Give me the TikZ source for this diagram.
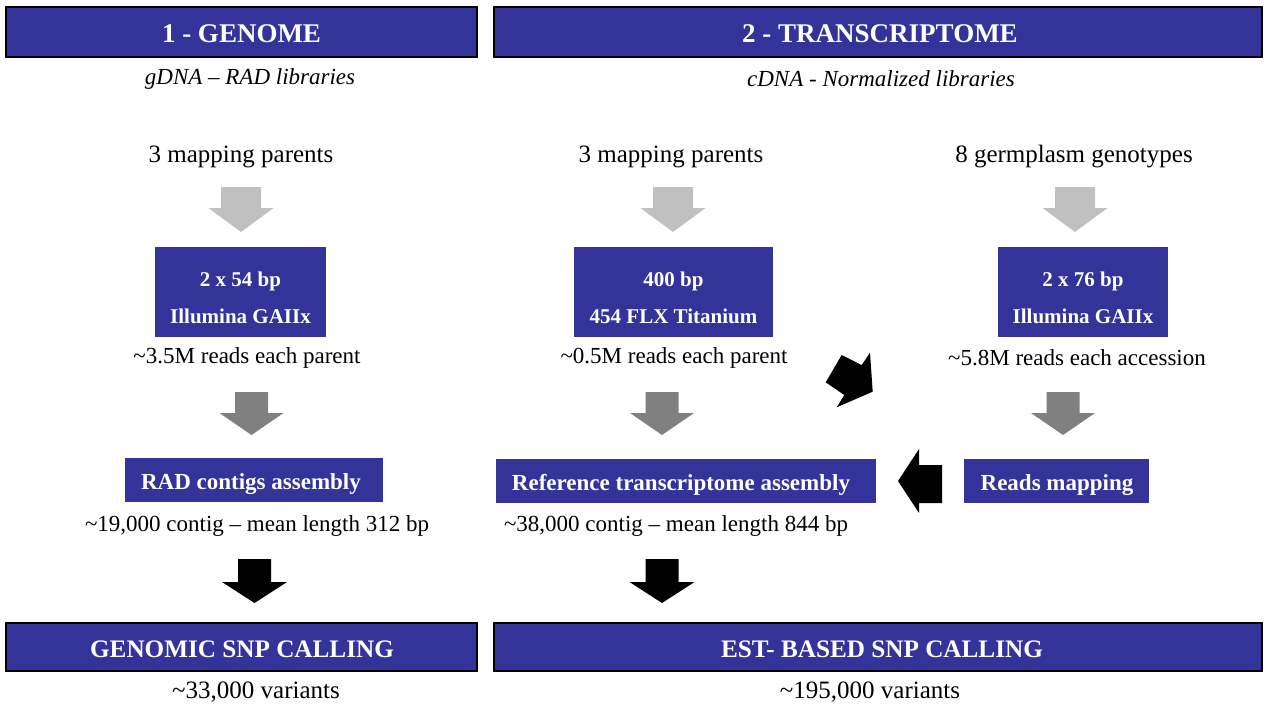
\documentclass[tikz,border=0pt]{standalone}
\usepackage{fontspec}
\setmainfont{Liberation Serif}
\definecolor{boxblue}{HTML}{333399}
\definecolor{lgray}{HTML}{C0C0C0}
\definecolor{dgray}{HTML}{808080}
\newcommand{\DownBlock}[7]{%
  \fill[#1] ({#2-#4/2},#3) -- ({#2+#4/2},#3) -- ({#2+#4/2},#6) -- ({#2+#5/2},#6) -- (#2,#7) -- ({#2-#5/2},#6) -- ({#2-#4/2},#6) -- cycle;}
\tikzset{
  hdr/.style={draw=black, line width=1.5pt, fill=boxblue, inner sep=0pt},
  hdrtxt/.style={text=white, inner sep=0pt, font=\fontsize{27}{30}\selectfont\bfseries},
  foottxt/.style={text=white, inner sep=0pt, font=\fontsize{25.2}{30}\selectfont\bfseries},
  bbox/.style={fill=boxblue, inner sep=0pt},
  btxt/.style={text=white, inner sep=0pt, align=center, font=\fontsize{21}{37}\selectfont\bfseries},
  btxtl/.style={text=white, inner sep=0pt, font=\fontsize{23}{27}\selectfont\bfseries},
  txt/.style={inner sep=0pt, font=\fontsize{23}{28}\selectfont},
  txtl/.style={inner sep=0pt, font=\fontsize{25}{28}\selectfont},
  sub/.style={inner sep=0pt, font=\fontsize{23}{25}\selectfont\itshape},
}
\begin{document}
\begin{tikzpicture}[x=1pt,y=-1pt]
\useasboundingbox (0,0) rectangle (1268,706);
% headers
\node[hdr, minimum width=471, minimum height=50] (h1) at (241.5,32) {};
\node[hdrtxt] (h1t) at (241.5,34) {1 - GENOME};
\node[hdr, minimum width=768, minimum height=50] (h2) at (878,32) {};
\node[hdrtxt] (h2t) at (880,34) {2 - TRANSCRIPTOME};
\node[sub] (s1) at (250,79) {gDNA – RAD libraries};
\node[sub] (s2) at (881,79) {cDNA - Normalized libraries};
% row 1
\node[txtl] (t1a) at (241,157) {3 mapping parents};
\node[txtl] (t1b) at (671,157) {3 mapping parents};
\node[txtl] (t1c) at (1074,157) {8 germplasm genotypes};
\DownBlock{lgray}{241}{187}{40}{65}{208}{232}
\DownBlock{lgray}{673}{187}{40}{65}{208}{232}
\DownBlock{lgray}{1075}{187}{40}{65}{208}{232}
% sequencing boxes
\node[bbox, minimum width=171, minimum height=90] (b1a) at (240.5,292) {};
\node[btxt] (b1at) at (240.5,297.5) {2 x 54 bp\\Illumina GAIIx};
\node[bbox, minimum width=199, minimum height=90] (b1b) at (673.5,292) {};
\node[btxt] (b1bt) at (673.5,297.5) {400 bp\\454 FLX Titanium};
\node[bbox, minimum width=170, minimum height=90] (b1c) at (1083,292) {};
\node[btxt] (b1ct) at (1083,297.5) {2 x 76 bp\\Illumina GAIIx};
% row 2
\node[txt] (t2a) at (247,358) {\textasciitilde 3.5M reads each parent};
\node[txt] (t2b) at (674,358) {\textasciitilde 0.5M reads each parent};
\node[txt] (t2c) at (1077,358) {\textasciitilde 5.8M reads each accession};
\DownBlock{dgray}{251.5}{392}{33}{64}{413}{435}
\DownBlock{dgray}{662}{392}{33}{64}{413}{435}
\DownBlock{dgray}{1063}{392}{33}{64}{413}{435}
% diagonal arrow
\fill[black] (841.7,355) -- (861.7,365) -- (870,352.7) -- (872.7,391.7) -- (836.7,407.3) -- (844.3,395) -- (825.7,382.3) -- cycle;
% assembly boxes
\node[bbox, minimum width=258, minimum height=44] (b2a) at (254,480) {};
\node[btxtl] (b2at) at (251,484) {RAD contigs assembly};
\node[bbox, minimum width=380, minimum height=44] (b2b) at (686,481) {};
\node[btxtl] (b2bt) at (681,485) {Reference transcriptome assembly};
\node[bbox, minimum width=185, minimum height=44] (b2c) at (1056.5,481) {};
\node[btxtl] (b2ct) at (1057,485) {Reads mapping};
% left arrow
\fill[black] (898,481) -- (919,449) -- (919,465) -- (942,465) -- (942,503) -- (919,503) -- (919,513) -- cycle;
% row 3
\node[txt] (t3a) at (257,526) {\textasciitilde 19,000 contig – mean length 312 bp};
\node[txt] (t3b) at (676,526) {\textasciitilde 38,000 contig – mean length 844 bp};
\DownBlock{black}{254.5}{559}{33}{65}{582}{603}
\DownBlock{black}{662}{559}{33}{65}{582}{603}
% bottom
\node[hdr, minimum width=471, minimum height=48] (f1) at (241.5,647) {};
\node[foottxt] (f1t) at (242,649) {GENOMIC SNP CALLING};
\node[hdr, minimum width=768, minimum height=48] (f2) at (878,647) {};
\node[foottxt] (f2t) at (882,649) {EST- BASED SNP CALLING};
\node[txtl] (v1) at (256,692) {\textasciitilde 33,000 variants};
\node[txtl] (v2) at (870,692) {\textasciitilde 195,000 variants};
\end{tikzpicture}
\end{document}
